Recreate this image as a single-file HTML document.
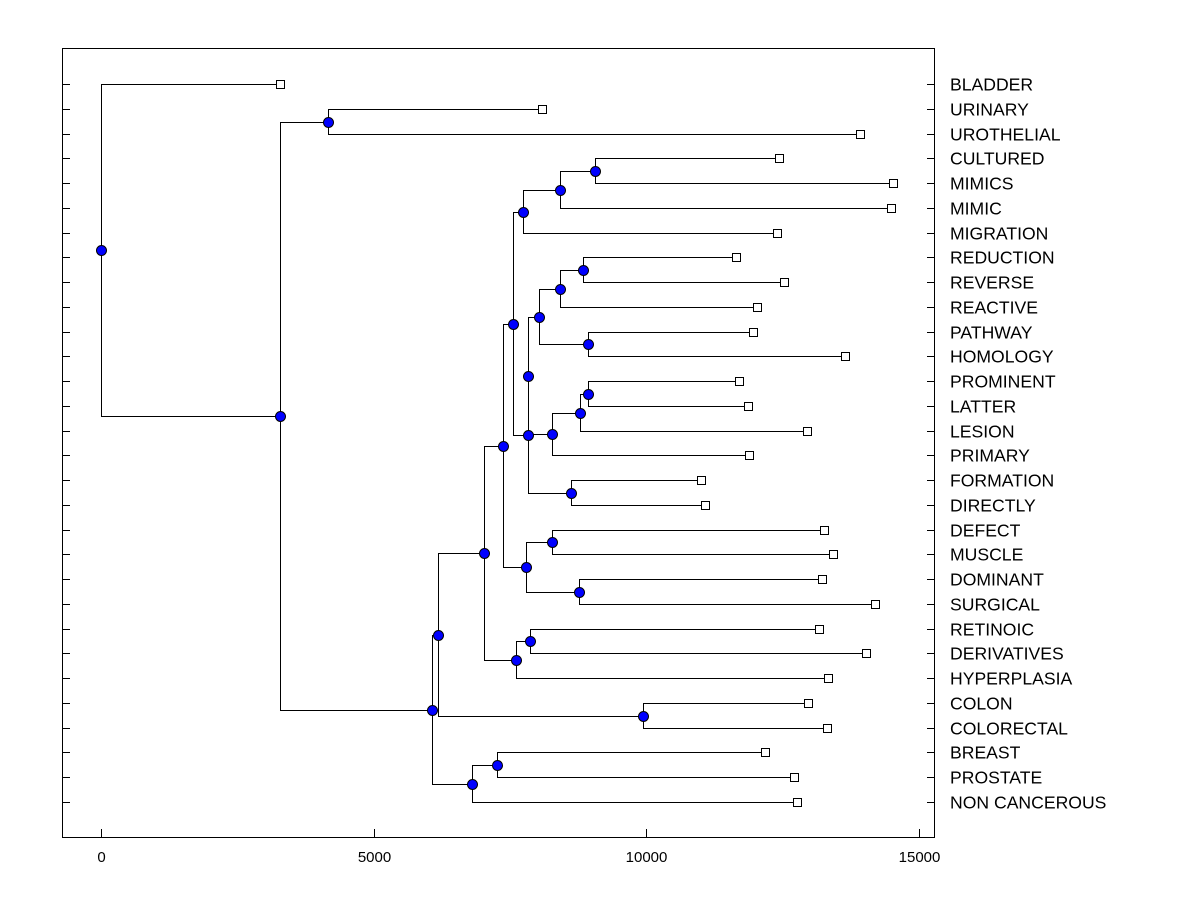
<!DOCTYPE html>
<html><head><meta charset="utf-8"><style>
body{margin:0;background:#fff;width:1200px;height:900px;overflow:hidden}
svg{font-family:"Liberation Sans",Arial,sans-serif}
</style></head><body>
<svg id="chart" width="1200" height="900" xmlns="http://www.w3.org/2000/svg">
<rect x="62.5" y="48.5" width="872" height="789" fill="#fff" stroke="#000" stroke-width="1" shape-rendering="crispEdges"/>
<g id="g"></g>
</svg>
<script>
const leafLabels=["BLADDER","URINARY","UROTHELIAL","CULTURED","MIMICS","MIMIC","MIGRATION","REDUCTION","REVERSE","REACTIVE","PATHWAY","HOMOLOGY","PROMINENT","LATTER","LESION","PRIMARY","FORMATION","DIRECTLY","DEFECT","MUSCLE","DOMINANT","SURGICAL","RETINOIC","DERIVATIVES","HYPERPLASIA","COLON","COLORECTAL","BREAST","PROSTATE","NON CANCEROUS"];
const leafValues=[3280,8095,13920,12436,14524,14487,12399,11648,12527,12033,11960,13645,11703,11868,12949,11886,11007,11080,13260,13425,13223,14194,13168,14029,13333,12967,13315,12179,12711,12766];
const mergeLeft=[3,30,31,7,33,10,34,12,37,38,36,16,40,32,18,20,44,43,22,48,47,25,50,27,53,52,1,56,0];
const mergeRight=[4,5,6,8,9,11,35,13,14,15,39,17,41,42,19,21,45,46,23,24,49,26,51,28,29,54,2,55,57];
const mergeHeights=[9066,8425,7747,8846,8425,8938,8040,8938,8791,8278,7839,8626,7821,7546,8278,8773,7802,7363,7875,7619,7015,9945,6172,7253,6795,6062,4158,3280,0];
const xTicks=[0,5000,10000,15000];

const NS="http://www.w3.org/2000/svg";
const g=document.getElementById('g');
const X=v=>Math.round(101+v*(919-101)/15000)+0.5;
const Y=i=>Math.round(84+i*(802-84)/(leafLabels.length-1))+0.5;
function mk(t,a){const e=document.createElementNS(NS,t);for(const k in a)e.setAttribute(k,a[k]);g.appendChild(e);return e;}
leafLabels.forEach((l,i)=>{
  const y=Y(i);
  const t1=mk('line',{x1:62,x2:70,y1:y,y2:y,stroke:'#000','shape-rendering':'crispEdges'});
  
  
  const t2=mk('line',{x1:927,x2:935,y1:y,y2:y,stroke:'#000','shape-rendering':'crispEdges'});
  
  
  const tx=mk('text',{x:950,y:y+6,'font-size':17.6,fill:'#000'});
  tx.textContent=l;
  
  
});
xTicks.forEach(v=>{
  const x=X(v);
  const t=mk('line',{x1:x,x2:x,y1:837,y2:829,stroke:'#000','shape-rendering':'crispEdges'});
  
  
  const tx=mk('text',{x:x,y:862,'font-size':15,'text-anchor':'middle',fill:'#000'});
  tx.textContent=v;
  
  
});
const nx=[],ny=[];
leafValues.forEach((v,i)=>{nx[i]=X(v);ny[i]=Y(i);});
const n0=leafLabels.length;
mergeHeights.forEach((h,k)=>{
  const a=mergeLeft[k],b=mergeRight[k],id=n0+k,x=X(h);
  nx[id]=x;ny[id]=Math.round((ny[a]+ny[b])/2-0.5)+0.5;
  const p=mk('path',{d:`M${nx[a]},${ny[a]}H${x}V${ny[b]}H${nx[b]}`,fill:'none',stroke:'#000','stroke-width':1,'shape-rendering':'crispEdges'});
  
  
});
leafValues.forEach((v,i)=>{
  const r=mk('rect',{x:nx[i]-4,y:ny[i]-4,width:8,height:8,fill:'#fff',stroke:'#000','shape-rendering':'crispEdges'});
  
  
});
mergeHeights.forEach((h,k)=>{
  const id=n0+k;
  const c=mk('circle',{cx:nx[id],cy:ny[id],r:5,fill:'#0000ff',stroke:'#000'});
  
  
});
</script>
</body></html>
